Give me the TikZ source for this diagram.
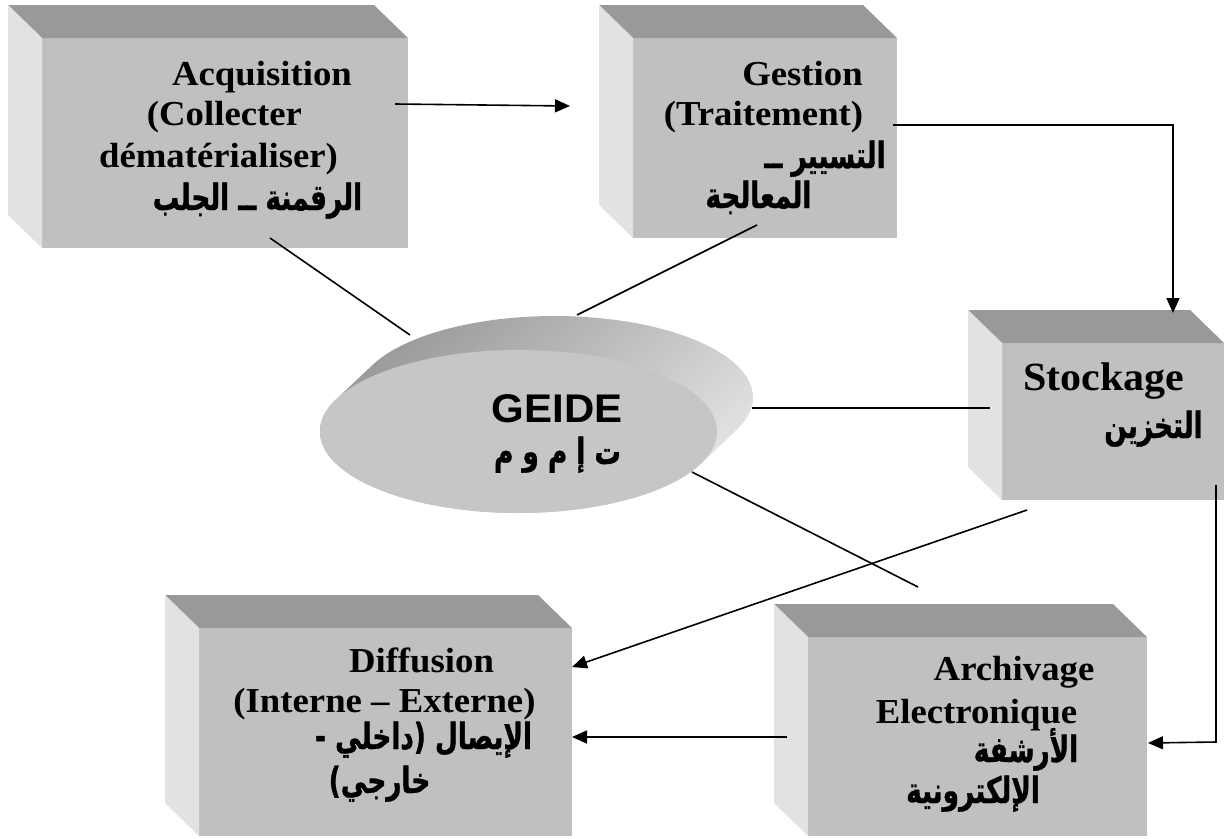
\documentclass[tikz,border=0pt]{standalone}
\usepackage{fontspec}
\usetikzlibrary{shapes.geometric,arrows.meta}
\TeXXeTstate=1
\newfontfamily\latinfont[FakeStretch=1.05]{Liberation Serif}
\newfontfamily\geidefont[FakeStretch=1.05]{Liberation Sans}
\newfontfamily\arabicfont[Script=Arabic,FakeStretch=0.73,FakeBold=1]{DejaVu Sans}

\definecolor{facefront}{HTML}{C0C0C0}
\definecolor{facetop}{HTML}{999999}
\definecolor{faceside}{HTML}{E2E2E2}
\definecolor{discface}{HTML}{C6C6C6}
\definecolor{discdark}{HTML}{999999}
\definecolor{disclight}{HTML}{E4E4E4}

\tikzset{
  front/.style={rectangle, fill=facefront, inner sep=0pt, outer sep=0pt, anchor=north west},
  topface/.style={fill=facetop},
  sideface/.style={fill=faceside},
  latinline/.style={font=\latinfont\bfseries\fontsize{35}{40}\selectfont, inner sep=0pt, anchor=base},
  arabicline/.style={font=\arabicfont\bfseries\fontsize{36}{40}\selectfont, inner sep=0pt, anchor=base},
  link/.style={draw=black, line width=1.6pt},
  flow/.style={link, -{Triangle[length=15pt,width=13pt]}},
}

% top and left faces of a box whose front face is the node #1
\newcommand\boxdepth[1]{%
  \fill[topface] (#1.north west) -- ++(-34,-33) -- ([shift={(-34,-33)}]#1.north east) -- (#1.north east) -- cycle;
  \fill[sideface] (#1.north west) -- ++(-34,-33) -- ([shift={(-34,-33)}]#1.south west) -- (#1.south west) -- cycle;
}

\begin{document}
\begin{tikzpicture}[x=1pt,y=-1pt]
\useasboundingbox (0,0) rectangle (1225,838);

% ---- boxes (front faces) ----
\node[front, minimum width=366pt, minimum height=210pt] (acq) at (42,38) {};
\node[front, minimum width=264pt, minimum height=200pt] (ges) at (633,38) {};
\node[front, minimum width=222pt, minimum height=157pt] (sto) at (1002,343) {};
\node[front, minimum width=373pt, minimum height=208pt] (dif) at (199,628) {};
\node[front, minimum width=339pt, minimum height=199pt] (arc) at (808,637) {};
\boxdepth{acq}
\boxdepth{ges}
\boxdepth{sto}
\boxdepth{dif}
\boxdepth{arc}

% ---- disc: rim swept up-right, then the top face ----
\shade[top color=discdark, bottom color=disclight, shading angle=40]
  plot[domain=203.5:383.5, samples=90] ({554.5+198.5*cos(\x)},{397.5+81.5*sin(\x)})
  -- plot[domain=23.5:203.5, samples=90] ({518.5+198.5*cos(\x)},{431.5+81.5*sin(\x)})
  -- cycle;
\node[ellipse, fill=discface, minimum width=397pt, minimum height=163pt, inner sep=0pt, outer sep=0pt] (geide) at (518.5,431.5) {};

% ---- texts ----
\node[latinline] (acqA) at (262,85) {Acquisition};
\node[latinline] (acqB) at (224.5,125) {(Collecter};
\node[latinline] (acqC) at (218.5,167) {dématérialiser)};
\node[arabicline] (acqD) at (257.5,210) {\beginR الرقمنة ــ الجلب\endR};

\node[latinline] (gesA) at (802.5,85) {Gestion};
\node[latinline] (gesB) at (763.5,125) {(Traitement)};
\node[arabicline] (gesC) at (825,168) {\beginR التسيير ــ\endR};
\node[arabicline] (gesD) at (758.5,208) {\beginR المعالجة\endR};

\node[latinline, font=\latinfont\bfseries\fontsize{40}{44}\selectfont] (stoA) at (1103.5,390) {Stockage};
\node[arabicline] (stoB) at (1153.5,438) {\beginR التخزين\endR};

\node[latinline] (difA) at (421.5,672) {Diffusion};
\node[latinline] (difB) at (384.5,712) {(Interne – Externe)};
\node[arabicline] (difC) at (423.5,749) {\beginR الإيصال (داخلي -\endR};
\node[arabicline] (difD) at (379.5,793) {\beginR خارجي)\endR};

\node[latinline] (arcA) at (1014,680) {Archivage};
\node[latinline] (arcB) at (976.5,723) {Electronique};
\node[arabicline] (arcC) at (1026,762) {\beginR الأرشفة\endR};
\node[arabicline] (arcD) at (973,803) {\beginR الإلكترونية\endR};

\node[font=\geidefont\bfseries\fontsize{40}{44}\selectfont, inner sep=0pt, anchor=base] (geideA) at (557,422) {GEIDE};
\node[font=\arabicfont\bfseries\fontsize{36}{40}\selectfont, inner sep=0pt, anchor=base] (geideB) at (557.5,464) {\beginR ت إ م و م\endR};

% ---- connector ends ----
\coordinate (acqOut) at (395,104);
\coordinate (gesIn) at (570,106);
\coordinate (gesOut) at (893,125);
\coordinate (gesTurn) at (1173,125);
\coordinate (stoIn) at (1173,313);
\coordinate (stoOut) at (1216,485);
\coordinate (stoTurn) at (1216,742);
\coordinate (arcIn) at (1148,743);
\coordinate (arcOut) at (787,737);
\coordinate (difIn) at (572,737);
\coordinate (stoDiag) at (1027,510);
\coordinate (difDiag) at (572,667);
\coordinate (acqLink) at (270,238);
\coordinate (geideNW) at (410,335);
\coordinate (gesLink) at (757,225);
\coordinate (geideN) at (577,315);
\coordinate (geideE) at (752,408);
\coordinate (stoLink) at (990,408);
\coordinate (geideSE) at (692,472);
\coordinate (arcLink) at (918,587);

% ---- flow arrows ----
\draw[flow] (acqOut) -- (gesIn);
\draw[flow] (gesOut) -- (gesTurn) -- (stoIn);
\draw[flow] (stoOut) -- (stoTurn) -- (arcIn);
\draw[flow] (arcOut) -- (difIn);
\draw[flow] (stoDiag) -- (difDiag);

% ---- links to the disc ----
\draw[link] (acqLink) -- (geideNW);
\draw[link] (gesLink) -- (geideN);
\draw[link] (geideE) -- (stoLink);
\draw[link] (geideSE) -- (arcLink);
\end{tikzpicture}
\end{document}
